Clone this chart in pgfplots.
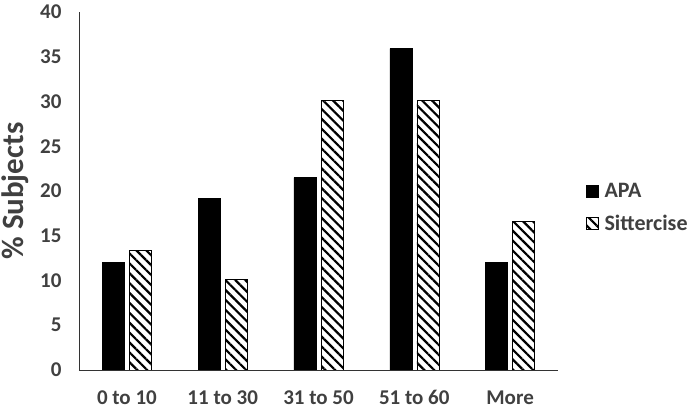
\documentclass[border=0pt]{standalone}
\usepackage{pgfplots}
\pgfplotsset{compat=1.18}
\usepackage{fontspec}
\setmainfont{Carlito}
\usetikzlibrary{patterns.meta}
\definecolor{txt}{HTML}{404040}
\begin{document}
\begin{tikzpicture}
\begin{axis}[
  scale only axis,
  width=479pt, height=358pt,
  ybar=5pt, bar width=22pt,
  xmin=-0.5, xmax=4.5,
  ymin=0, ymax=40,
  ytick={0,5,...,40},
  xtick=data,
  xticklabels={0 to 10,11 to 30,31 to 50,51 to 60,More},
  axis x line*=bottom, axis y line*=left,
  axis line style={black!80, line width=0.8pt},
  major tick length=0pt,
  tick label style={font=\fontsize{21}{24}\selectfont\bfseries, text=txt},
  /pgf/number format/assume math mode=true,
  yticklabel style={xshift=-14pt},
  xticklabel style={anchor=base, yshift=-35pt},
  ylabel={\% Subjects},
  every axis y label/.style={at={(axis description cs:-0.162,0.5)}, rotate=90, anchor=north, inner sep=0pt, font=\fontsize{31}{34}\selectfont\bfseries, text=txt},
  legend style={at={(1.058,0.454)}, anchor=west, draw=none, inner sep=0pt, font=\fontsize{22}{25}\selectfont\bfseries, text=txt, row sep=12pt, legend cell align=left, /tikz/every odd column/.append style={column sep=4pt}},
  legend image code/.code={\draw[#1] (0pt,-6pt) rectangle (12pt,6pt);},
]
\addplot[draw=black, fill=black] coordinates {(0,12.0) (1,19.2) (2,21.5) (3,35.9) (4,12.0)};
\addplot[draw=black, line width=0.6pt, pattern={Lines[angle=-45, distance=7pt, line width=2.2pt]}, pattern color=black] coordinates {(0,13.4) (1,10.1) (2,30.1) (3,30.1) (4,16.6)};
\legend{APA,Sittercise}
\end{axis}
\pgfresetboundingbox
\path[use as bounding box] (current axis.south west) ++(-79pt,-41pt) rectangle ++(696pt,411pt);
\end{tikzpicture}
\end{document}
